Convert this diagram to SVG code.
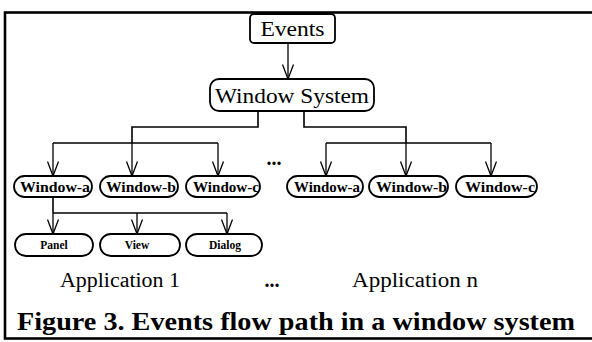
<svg xmlns="http://www.w3.org/2000/svg" width="592" height="342" viewBox="0 0 592 342">
  <defs>
    <marker id="vee" viewBox="0 0 16 12" refX="15" refY="6" markerWidth="16" markerHeight="12" markerUnits="userSpaceOnUse" orient="auto">
      <path d="M0.5,0.5 L15,6 L0.5,11.5" fill="none" stroke="#000" stroke-width="1.3"/>
    </marker>
    <style>
      .box { fill: #fff; stroke: #000; stroke-width: 1.8; }
      .wire { fill: none; stroke: #000; stroke-width: 1.6; }
      .arrow { fill: none; stroke: #000; stroke-width: 1.3; marker-end: url(#vee); }
      .serif { font-family: "Liberation Serif", "Times New Roman", serif; fill: #000; }
      .big { font-size: 21px; }
      .win { font-size: 15px; font-weight: bold; }
      .sub { font-size: 11.5px; font-weight: bold; }
      .app { font-size: 20px; }
      .dots { font-size: 20px; font-weight: bold; }
      .cap { font-size: 25px; font-weight: bold; }
    </style>
  </defs>

  <rect width="592" height="342" fill="#fff"/>

  <!-- frame -->
  <rect x="5" y="12.5" width="600" height="326" fill="none" stroke="#000" stroke-width="2.6"/>

  <!-- connectors -->
  <g id="connectors">
    <line class="arrow" x1="288" y1="43" x2="288" y2="79"/>
    <polyline class="wire" points="258,111 258,127 132,127 132,143"/>
    <polyline class="wire" points="304,111 304,127 406,127 406,143"/>
    <line class="wire" x1="53" y1="143" x2="218" y2="143"/>
    <line class="wire" x1="326" y1="143" x2="491" y2="143"/>
    <line class="arrow" x1="53" y1="143" x2="53" y2="176"/>
    <line class="arrow" x1="132" y1="143" x2="132" y2="176"/>
    <line class="arrow" x1="218" y1="143" x2="218" y2="176"/>
    <line class="arrow" x1="326" y1="143" x2="326" y2="176"/>
    <line class="arrow" x1="406" y1="143" x2="406" y2="176"/>
    <line class="arrow" x1="491" y1="143" x2="491" y2="176"/>
    <polyline class="wire" points="53,197 53,213"/>
    <line class="wire" x1="53" y1="213" x2="227" y2="213"/>
    <line class="arrow" x1="53" y1="213" x2="53" y2="234"/>
    <line class="arrow" x1="137" y1="213" x2="137" y2="234"/>
    <line class="arrow" x1="227" y1="213" x2="227" y2="234"/>
  </g>

  <g id="events">
    <rect class="box" x="250" y="14" width="85" height="29" rx="4"/>
    <text class="serif big" x="292.5" y="36" text-anchor="middle" textLength="64" lengthAdjust="spacingAndGlyphs">Events</text>
  </g>

  <g id="window-system">
    <rect class="box" x="210" y="79" width="164" height="32" rx="9"/>
    <text class="serif big" x="292" y="103" text-anchor="middle" textLength="154" lengthAdjust="spacingAndGlyphs">Window System</text>
  </g>

  <!-- application 1 windows -->
  <g id="window-a1">
    <rect class="box" x="14" y="176" width="78" height="21" rx="10.5"/>
    <text class="serif win" x="20" y="191.5" textLength="70" lengthAdjust="spacingAndGlyphs">Window-a</text>
  </g>
  <g id="window-b1">
    <rect class="box" x="100" y="176" width="78" height="21" rx="10.5"/>
    <text class="serif win" x="106" y="191.5" textLength="70" lengthAdjust="spacingAndGlyphs">Window-b</text>
  </g>
  <g id="window-c1">
    <rect class="box" x="186" y="176" width="74" height="21" rx="10.5"/>
    <text class="serif win" x="193" y="191.5" textLength="66" lengthAdjust="spacingAndGlyphs">Window-c</text>
  </g>

  <text class="serif dots" x="274" y="165" text-anchor="middle">...</text>

  <!-- application n windows -->
  <g id="window-an">
    <rect class="box" x="287" y="176" width="76" height="21" rx="10.5"/>
    <text class="serif win" x="294" y="191.5" textLength="66" lengthAdjust="spacingAndGlyphs">Window-a</text>
  </g>
  <g id="window-bn">
    <rect class="box" x="369" y="176" width="79" height="21" rx="10.5"/>
    <text class="serif win" x="376" y="191.5" textLength="71" lengthAdjust="spacingAndGlyphs">Window-b</text>
  </g>
  <g id="window-cn">
    <rect class="box" x="456" y="176" width="81" height="21" rx="10.5"/>
    <text class="serif win" x="465" y="191.5" textLength="70" lengthAdjust="spacingAndGlyphs">Window-c</text>
  </g>

  <!-- sub-windows of Window-a -->
  <g id="panel">
    <rect class="box" x="15" y="234" width="78" height="22" rx="11"/>
    <text class="serif sub" x="54" y="249" text-anchor="middle">Panel</text>
  </g>
  <g id="view">
    <rect class="box" x="100" y="234" width="80" height="22" rx="11"/>
    <text class="serif sub" x="137" y="249" text-anchor="middle">View</text>
  </g>
  <g id="dialog">
    <rect class="box" x="186" y="234" width="76" height="22" rx="11"/>
    <text class="serif sub" x="225" y="249" text-anchor="middle">Dialog</text>
  </g>

  <text class="serif app" x="60" y="287" textLength="120" lengthAdjust="spacingAndGlyphs">Application 1</text>
  <text class="serif dots" x="272" y="287" text-anchor="middle">...</text>
  <text class="serif app" x="352" y="287" textLength="126" lengthAdjust="spacingAndGlyphs">Application n</text>

  <text class="serif cap" x="17" y="330" textLength="558" lengthAdjust="spacingAndGlyphs">Figure 3. Events flow path in a window system</text>
</svg>
